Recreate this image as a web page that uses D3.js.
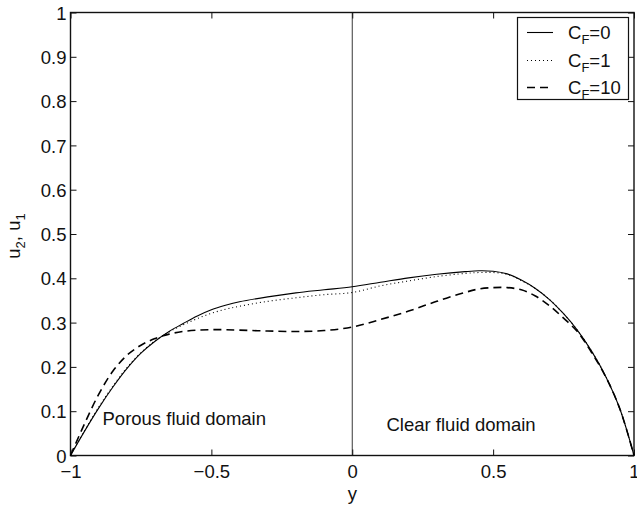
<!DOCTYPE html>
<html>
<head>
<meta charset="utf-8">
<script src="https://cdn.jsdelivr.net/npm/d3@7"></script>
<style>
  html, body { margin: 0; padding: 0; background: #fff; }
  text { font-family: "Liberation Sans", Arial, Helvetica, sans-serif; fill: #111; }
</style>
</head>
<body>
<svg id="chart" width="637" height="509"></svg>
<script>
// ---- data ----
const yPos = [-1, -0.95, -0.9, -0.85, -0.8, -0.75, -0.7, -0.65, -0.6, -0.55, -0.5, -0.45, -0.4, -0.3, -0.2, -0.1,
              0, 0.1, 0.2, 0.3, 0.4, 0.45, 0.5, 0.55, 0.6, 0.65, 0.7, 0.75, 0.8, 0.85, 0.9, 0.95, 1];
const uCF0  = [0, 0.055, 0.107, 0.154, 0.196, 0.231, 0.258, 0.280, 0.298, 0.315, 0.329, 0.339, 0.347, 0.358, 0.367, 0.374,
               0.381, 0.391, 0.401, 0.409, 0.415, 0.417, 0.416, 0.410, 0.396, 0.377, 0.352, 0.320, 0.282, 0.235, 0.178, 0.105, 0];
const uCF1  = [0, 0.056, 0.109, 0.156, 0.198, 0.232, 0.259, 0.279, 0.295, 0.309, 0.321, 0.330, 0.337, 0.348, 0.356, 0.363,
               0.368, 0.383, 0.394, 0.404, 0.411, 0.413, 0.413, 0.409, 0.395, 0.377, 0.352, 0.320, 0.282, 0.235, 0.178, 0.105, 0];
const uCF10 = [0, 0.072, 0.138, 0.190, 0.226, 0.249, 0.264, 0.274, 0.280, 0.283, 0.284, 0.284, 0.283, 0.281, 0.280, 0.282,
               0.290, 0.307, 0.326, 0.348, 0.368, 0.376, 0.379, 0.379, 0.374, 0.360, 0.338, 0.310, 0.279, 0.232, 0.177, 0.105, 0];
const seriesNames = ["CF=0", "CF=1", "CF=10"];
const legendValues = ["0", "1", "10"];
const xTicks = [-1, -0.5, 0, 0.5, 1];
const yTicks = [0, 0.1, 0.2, 0.3, 0.4, 0.5, 0.6, 0.7, 0.8, 0.9, 1];

// ---- layout ----
const L = 70.5, R = 634, T = 12.5, B = 455.5;
const svg = d3.select("#chart");
const x = d3.scaleLinear().domain([-1, 1]).range([L, R]);
const y = d3.scaleLinear().domain([0, 1]).range([B, T]);
const FS = 18.5;
const tickLen = 6;

const fmt = v => (v < 0 ? "\u2212" : "") + String(Math.abs(v));

// plot box
svg.append("rect").attr("x", L).attr("y", T).attr("width", R - L).attr("height", B - T)
  .attr("fill", "none").attr("stroke", "#111").attr("stroke-width", 1.4);

// x=0 separator
svg.append("line").attr("x1", x(0)).attr("x2", x(0)).attr("y1", T).attr("y2", B)
  .attr("stroke", "#222").attr("stroke-width", 0.9);

// axes using d3 axis generators (inward ticks)
const xAxisB = d3.axisBottom(x).tickValues(xTicks).tickSizeInner(-tickLen).tickSizeOuter(0).tickFormat(fmt);
const gxb = svg.append("g").attr("transform", `translate(0,${B})`).call(xAxisB);
const xAxisT = d3.axisTop(x).tickValues(xTicks).tickSizeInner(-tickLen).tickSizeOuter(0).tickFormat("");
const gxt = svg.append("g").attr("transform", `translate(0,${T})`).call(xAxisT);
const yAxisL = d3.axisLeft(y).tickValues(yTicks).tickSizeInner(-tickLen).tickSizeOuter(0).tickFormat(d3.format("")).tickPadding(4);
const gyl = svg.append("g").attr("transform", `translate(${L},0)`).call(yAxisL);
const yAxisR = d3.axisRight(y).tickValues(yTicks).tickSizeInner(-tickLen).tickSizeOuter(0).tickFormat("");
const gyr = svg.append("g").attr("transform", `translate(${R},0)`).call(yAxisR);

[gxb, gxt, gyl, gyr].forEach(g => {
  g.select(".domain").remove();
  g.selectAll(".tick line").attr("stroke", "#111").attr("stroke-width", 1);
  g.selectAll("text").attr("font-size", FS).attr("fill", "#111")
    .style("font-family", '"Liberation Sans", Arial, sans-serif');
});
gxb.selectAll(".tick text").attr("dy", "0.71em").attr("y", 9.5);
gyl.selectAll(".tick text").attr("dy", "0.36em");

// lines
const data = [uCF0, uCF1, uCF10];
const styles = [
  { dash: null, width: 1.1 },
  { dash: "1,3", width: 1.1 },
  { dash: "8,5", width: 1.6 }
];
const line = d3.line().x((d, i) => x(yPos[i])).y(d => y(d)).curve(d3.curveCatmullRom.alpha(0.5));
data.forEach((s, k) => {
  svg.append("path").datum(s).attr("d", line).attr("fill", "none")
    .attr("stroke", "#000").attr("stroke-width", styles[k].width)
    .attr("stroke-dasharray", styles[k].dash);
});

// annotations
svg.append("text").attr("x", 102.5).attr("y", 425).attr("font-size", FS).text("Porous fluid domain");
svg.append("text").attr("x", 386.5).attr("y", 431).attr("font-size", FS).text("Clear fluid domain");

// axis labels
svg.append("text").attr("x", x(0)).attr("y", 499.5).attr("text-anchor", "middle").attr("font-size", FS).text("y");
const yl = svg.append("text").attr("transform", "translate(20,236) rotate(-90)")
  .attr("text-anchor", "middle").attr("font-size", FS);
yl.append("tspan").text("u");
yl.append("tspan").attr("dy", 5).attr("font-size", 13).text("2");
yl.append("tspan").attr("dy", -5).text(", u");
yl.append("tspan").attr("dy", 5).attr("font-size", 13).text("1");

// legend
const lg = svg.append("g");
lg.append("rect").attr("x", 517.5).attr("y", 17.5).attr("width", 111).attr("height", 82)
  .attr("fill", "#fff").attr("stroke", "#111").attr("stroke-width", 1.2);
const rowY = [32.5, 60.5, 87.5];
seriesNames.forEach((n, k) => {
  lg.append("line").attr("x1", 527).attr("x2", 553).attr("y1", rowY[k]).attr("y2", rowY[k])
    .attr("stroke", "#000").attr("stroke-width", styles[k].width).attr("stroke-dasharray", styles[k].dash);
  const t = lg.append("text").attr("x", 568).attr("y", rowY[k] + 6).attr("font-size", FS);
  t.append("tspan").text("C");
  t.append("tspan").attr("dy", 5).attr("font-size", 13).text("F");
  t.append("tspan").attr("dy", -5).text("=" + legendValues[k]);
});
</script>
</body>
</html>
